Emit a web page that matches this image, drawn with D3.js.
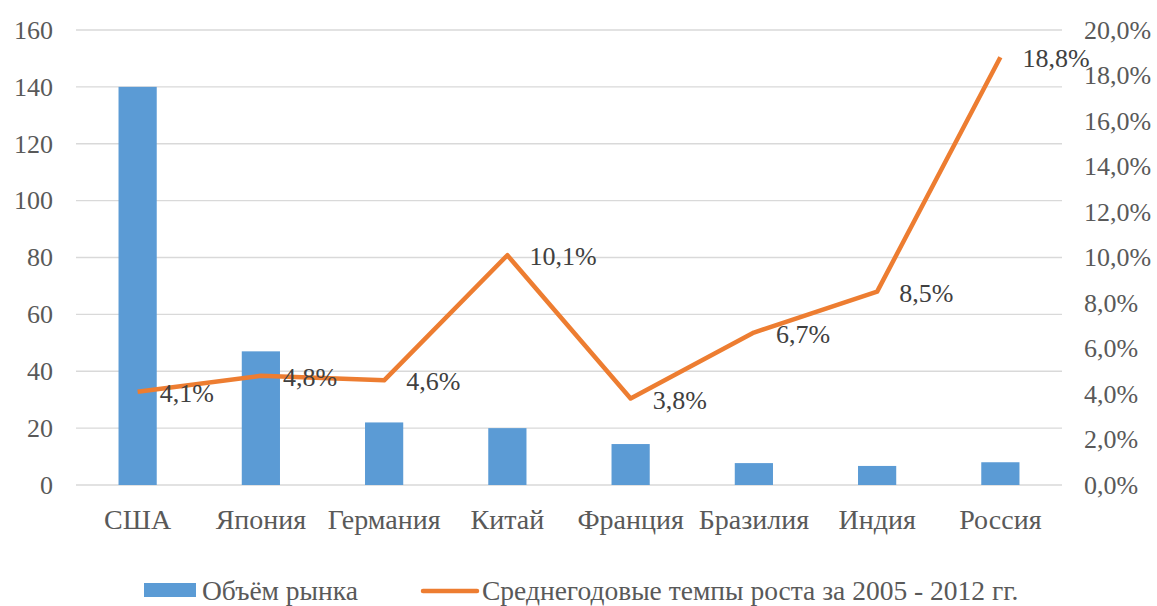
<!DOCTYPE html>
<html>
<head>
<meta charset="utf-8">
<script src="https://cdn.jsdelivr.net/npm/d3@7"></script>
<style>
	body { margin: 0; background: #fff; }
	text { font-family: "Liberation Serif", "Times New Roman", serif; fill: #595959; }
</style>
</head>
<body>
<div id="viz"></div>
<script>
// chart values
const categories = ['США', 'Япония', 'Германия', 'Китай', 'Франция', 'Бразилия', 'Индия', 'Россия'];
const marketVolume = [140, 47, 22, 20, 14.4, 7.7, 6.7, 8.0];
const growthRate = [4.1, 4.8, 4.6, 10.1, 3.8, 6.7, 8.5, 18.8];
const leftTicks = [0, 20, 40, 60, 80, 100, 120, 140, 160];
const rightTicks = [0, 2, 4, 6, 8, 10, 12, 14, 16, 18, 20];
const seriesNames = ['Объём рынка', 'Среднегодовые темпы роста за 2005 - 2012 гг.'];

const width = 1157, height = 606;
const plot = { left: 76, right: 1062, top: 30, bottom: 485 };
const fmt = (v) => v.toFixed(1).replace('.', ',') + '%';
const serif = '"Liberation Serif", "Times New Roman", serif';

const svg = d3.select('#viz').append('svg')
	.attr('width', width)
	.attr('height', height);

const xScale = d3.scaleBand()
	.domain(categories)
	.range([plot.left, plot.right])
	.paddingInner(0.69)
	.paddingOuter(0.345);

const xPoint = (c) => xScale(c) + xScale.bandwidth() / 2;

const yLeft = d3.scaleLinear().domain([0, 160]).range([plot.bottom, plot.top]);
const yRight = d3.scaleLinear().domain([0, 20]).range([plot.bottom, plot.top]);

// gridlines
svg.append('g').selectAll('line')
	.data(leftTicks)
	.enter().append('line')
	.attr('x1', plot.left).attr('x2', plot.right)
	.attr('y1', (d) => yLeft(d)).attr('y2', (d) => yLeft(d))
	.attr('stroke', '#d9d9d9')
	.attr('stroke-width', 1.3);

// left axis
const leftAxis = svg.append('g')
	.attr('transform', 'translate(' + 53 + ',0)')
	.attr('font-family', serif)
	.call(d3.axisLeft(yLeft).tickValues(leftTicks).tickSize(0).tickPadding(0));
leftAxis.attr('font-family', serif);
leftAxis.select('.domain').remove();
leftAxis.selectAll('text').style('font-size', '26px').style('fill', '#595959');

// right axis
const rightAxis = svg.append('g')
	.attr('transform', 'translate(' + 1084 + ',0)')
	.call(d3.axisRight(yRight).tickValues(rightTicks).tickSize(0).tickPadding(0).tickFormat(fmt));
rightAxis.attr('font-family', serif);
rightAxis.select('.domain').remove();
rightAxis.selectAll('text').style('font-size', '26px').style('fill', '#595959');

// category axis
const xAxis = svg.append('g')
	.attr('transform', 'translate(0,' + 509 + ')')
	.call(d3.axisBottom(xScale).tickSize(0).tickPadding(0));
xAxis.attr('font-family', serif);
xAxis.select('.domain').remove();
xAxis.selectAll('text').style('font-size', '28px').style('fill', '#595959');

// bars
svg.append('g').selectAll('rect')
	.data(marketVolume)
	.enter().append('rect')
	.attr('x', (d, i) => xScale(categories[i]))
	.attr('y', (d) => yLeft(d))
	.attr('width', xScale.bandwidth())
	.attr('height', (d) => yLeft(0) - yLeft(d))
	.attr('fill', '#5b9bd5');

// line
const line = d3.line()
	.x((d, i) => xPoint(categories[i]))
	.y((d) => yRight(d));

svg.append('path')
	.datum(growthRate)
	.attr('fill', 'none')
	.attr('stroke', '#ed7d31')
	.attr('stroke-width', 4.5)
	.attr('stroke-linejoin', 'round')
	.attr('d', line);

// data labels
svg.append('g').selectAll('text')
	.data(growthRate)
	.enter().append('text')
	.attr('x', (d, i) => xPoint(categories[i]) + 22)
	.attr('y', (d) => yRight(d) + 10)
	.style('font-size', '26px')
	.style('fill', '#404040')
	.text(fmt);

// legend
const legend = svg.append('g');
legend.append('rect')
	.attr('x', 144).attr('y', 583)
	.attr('width', 52).attr('height', 14)
	.attr('fill', '#5b9bd5');
legend.append('text')
	.attr('x', 202).attr('y', 600)
	.style('font-size', '27.5px')
	.text(seriesNames[0]);
legend.append('line')
	.attr('x1', 423).attr('x2', 477)
	.attr('y1', 591).attr('y2', 591)
	.attr('stroke', '#ed7d31')
	.attr('stroke-width', 4.5)
	.attr('stroke-linecap', 'round');
legend.append('text')
	.attr('x', 482).attr('y', 600)
	.style('font-size', '27.5px')
	.text(seriesNames[1]);
</script>
</body>
</html>
